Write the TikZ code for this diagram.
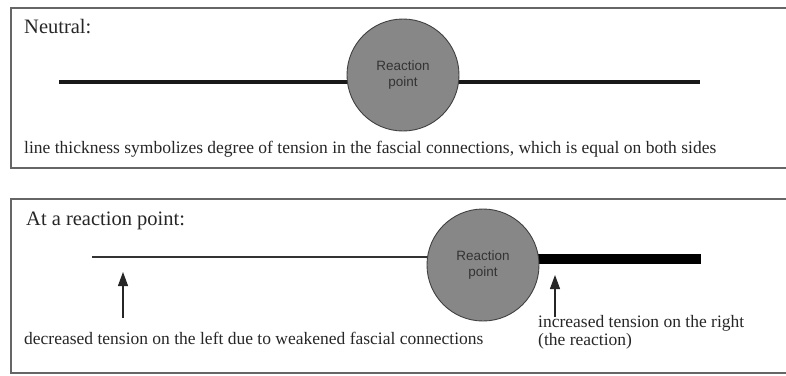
\documentclass[tikz,border=0pt]{standalone}
\usepackage{fontspec}
\setmainfont{Liberation Serif}
\newfontfamily\arialfont{Liberation Sans}
\usetikzlibrary{arrows.meta}
\tikzset{
  panel/.style={draw=black!60, line width=1.4pt},
  rpoint/.style={circle, draw=black!75, line width=0.9pt, fill=black!47, minimum size=112pt, inner sep=0pt, align=center, font=\arialfont\fontsize{13.5}{16}\selectfont, text=black!80},
  title/.style={anchor=base west, inner sep=0pt, font=\fontsize{20.5}{24}\selectfont, text=black!85},
  caption/.style={anchor=base west, inner sep=0pt, font=\fontsize{17.5}{18}\selectfont, text=black!85, align=left},
  upar/.style={-{Triangle[length=14pt,width=10pt]}, line width=1.2pt, black!85},
}
\begin{document}
\begin{tikzpicture}[x=1pt,y=-1pt]
\useasboundingbox (0,0) rectangle (786,375);
% panels (open on the right, cut by the page edge)
\draw[panel] (800,8) -- (11,8) -- (11,168) -- (800,168);
\draw[panel] (800,199) -- (11,199) -- (11,373) -- (800,373);

% top panel
\node[title] (t1) at (24,33) {Neutral:};
\coordinate (l1) at (59,82);
\coordinate (r1) at (700,82);
\draw[line width=4pt, black!90] (l1) -- (r1);
\node[rpoint] (c1) at (403,75) {Reaction\\point};
\node[caption] (cap1) at (24,153) {line thickness symbolizes degree of tension in the fascial connections, which is equal on both sides};

% bottom panel
\node[title] (t2) at (26,225) {At a reaction point:};
\coordinate (l2) at (92,257);
\coordinate (m2) at (483,257);
\coordinate (m3) at (483,258.5);
\coordinate (r2) at (701,258.5);
\draw[line width=1.3pt, black!80] (l2) -- (m2);
\draw[line width=10pt, black] (m3) -- (r2);
\node[rpoint] (c2) at (483,265) {Reaction\\point};

\coordinate (a1s) at (123,318);
\coordinate (a1e) at (123,272);
\coordinate (a2s) at (555,317);
\coordinate (a2e) at (555,275);
\draw[upar] (a1s) -- (a1e);
\draw[upar] (a2s) -- (a2e);

\node[caption] (cap2) at (24,344) {decreased tension on the left due to weakened fascial connections};
\node[caption] (cap3) at (538,345) {increased tension on the right\\(the reaction)};
\end{tikzpicture}
\end{document}
